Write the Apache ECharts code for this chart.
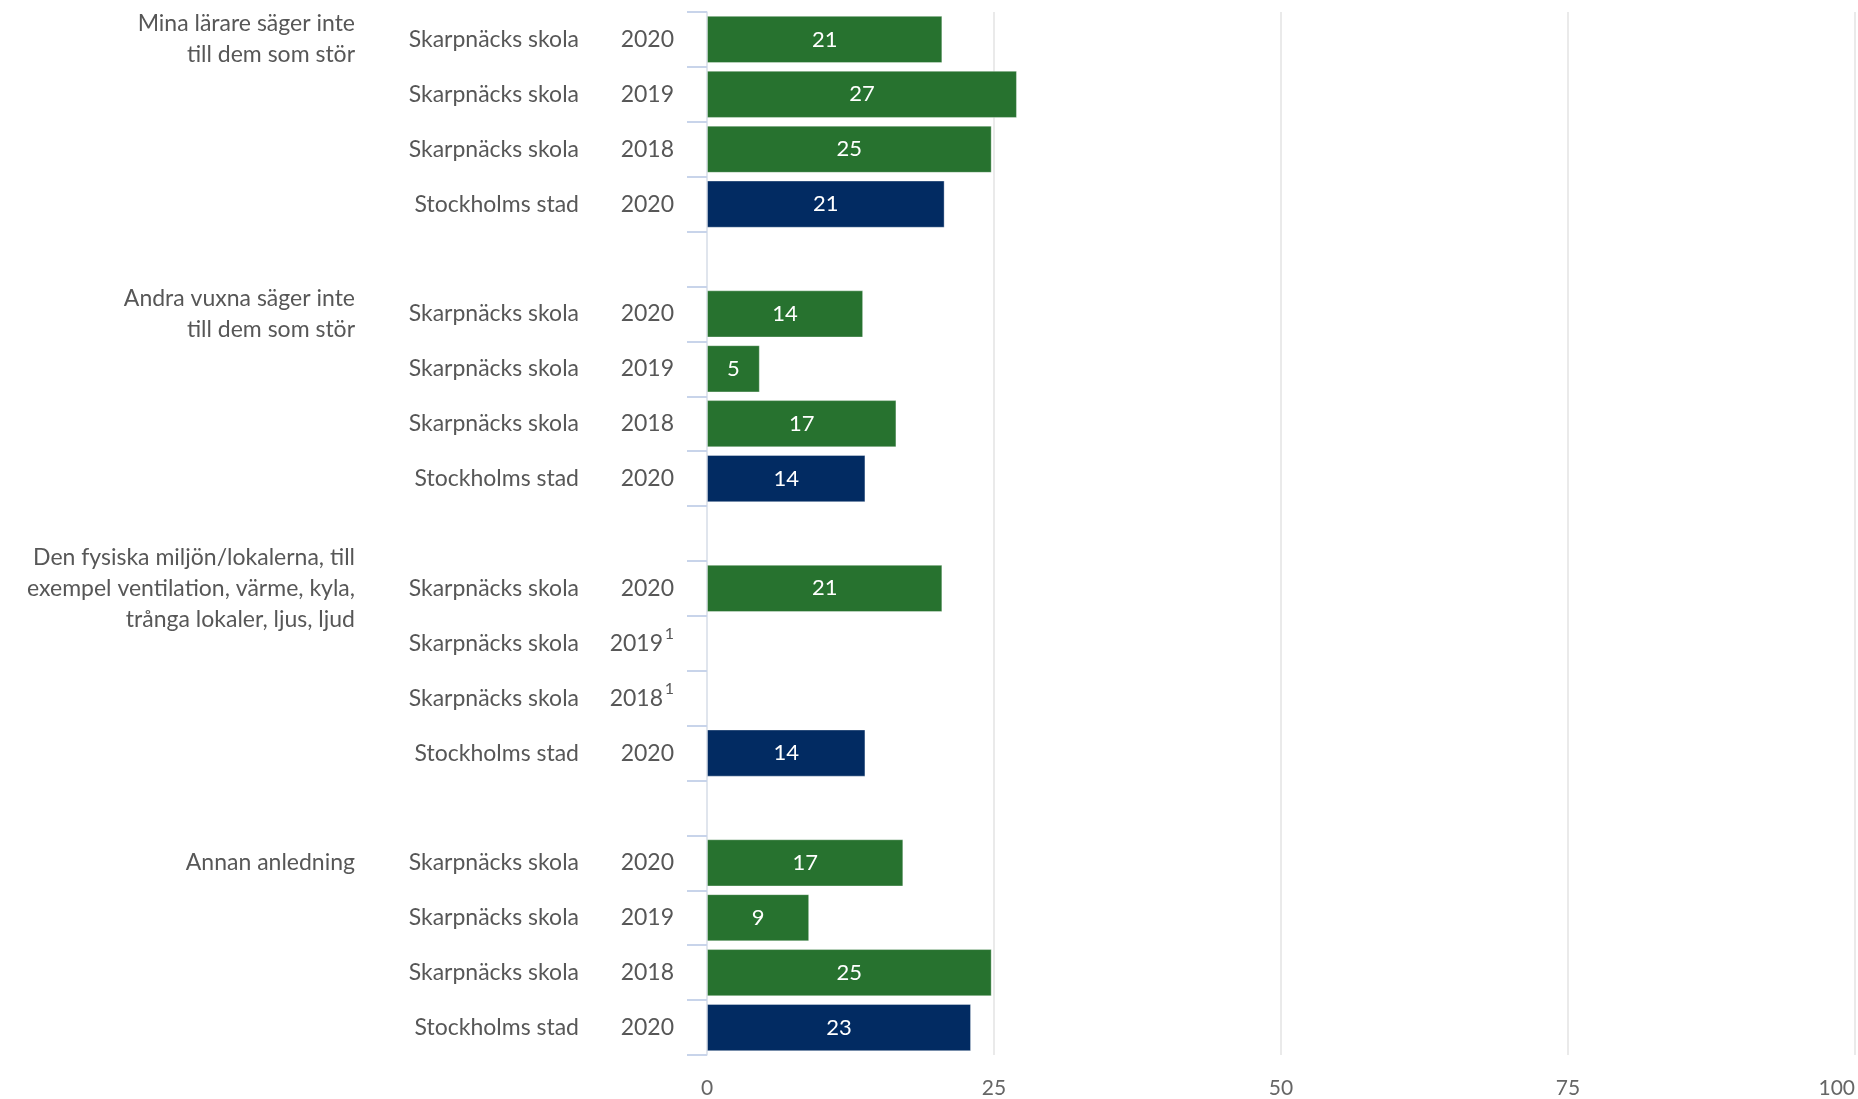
<!DOCTYPE html>
<html>
<head>
<meta charset="utf-8">
<script src="https://cdn.jsdelivr.net/npm/echarts@6/dist/echarts.min.js"></script>
<style>
html,body{margin:0;padding:0;background:#fff;}
#chart{width:1858px;height:1099px;}
</style>
</head>
<body>
<div id="chart"></div>
<script>
// ---- Data ----
const groupNames = [
  'Mina lärare säger inte\ntill dem som stör',
  'Andra vuxna säger inte\ntill dem som stör',
  'Den fysiska miljön/lokalerna, till\nexempel ventilation, värme, kyla,\ntrånga lokaler, ljus, ljud',
  'Annan anledning'
];
const rowUnits = ['Skarpnäcks skola', 'Skarpnäcks skola', 'Skarpnäcks skola', 'Stockholms stad'];
const rowYears = ['2020', '2019', '2018', '2020'];
const valuesMina = [20.5, 27.0, 24.8, 20.7];
const valuesAndra = [13.6, 4.6, 16.5, 13.8];
const valuesFysiska = [20.5, null, null, 13.8];
const valuesAnnan = [17.1, 8.9, 24.8, 23.0];
const footnoteFysiska = [false, true, true, false];
const xTicks = [0, 25, 50, 75, 100];

const groupValues = [valuesMina, valuesAndra, valuesFysiska, valuesAnnan];
const groupFootnotes = [[false,false,false,false],[false,false,false,false],footnoteFysiska,[false,false,false,false]];

const GREEN = '#27722f';
const NAVY = '#022b62';

// Build rows (with blank separator rows between groups)
const cats = [];
const rowInfo = [];
const barData = [];
groupNames.forEach((g, gi) => {
  rowUnits.forEach((u, ri) => {
    const key = 'r' + gi + '_' + ri;
    cats.push(key);
    rowInfo.push({group: ri === 0 ? g : '', unit: u, year: rowYears[ri], sup: groupFootnotes[gi][ri]});
    const v = groupValues[gi][ri];
    barData.push({value: v, itemStyle: {color: u === 'Stockholms stad' ? NAVY : GREEN}});
  });
  if (gi < groupNames.length - 1) {
    const key = 'gap' + gi;
    cats.push(key);
    rowInfo.push({group: '', unit: '', year: '', sup: false});
    barData.push({value: null});
  }
});

const FONT = 'Lato';
const TXT = '#575757';
const chart = echarts.init(document.getElementById('chart'));
chart.setOption({
  animation: false,
  textStyle: {fontFamily: FONT},
  grid: {left: 707, right: 3, top: 12, bottom: 44, containLabel: false},
  xAxis: {
    type: 'value', min: 0, max: 100, interval: 25,
    axisLine: {show: false}, axisTick: {show: false},
    splitLine: {lineStyle: {color: '#e3e3e3', width: 1.5}},
    axisLabel: {color: '#666', fontSize: 21, margin: 23, fontFamily: FONT, alignMaxLabel: 'right',
      formatter: v => xTicks.includes(v) ? String(v) : ''}
  },
  yAxis: [{
    type: 'category', data: cats, inverse: true, position: 'left',
    axisLine: {show: true, lineStyle: {color: '#dde3ee', width: 1.5}},
    axisTick: {show: true, length: 20, lineStyle: {color: '#c8d4ea', width: 2}},
    axisLabel: {
      margin: 33, fontFamily: FONT,
      formatter: (v, i) => {
        const r = rowInfo[i];
        if (!r || !r.unit) return '';
        if (r.sup) return '{n|' + r.unit + '}{y2|' + r.year + '}{s|1}';
        return '{n|' + r.unit + '}{y|' + r.year + '}';
      },
      rich: {
        n: {fontSize: 23, color: TXT, fontFamily: FONT},
        y: {fontSize: 23, color: TXT, width: 95, align: 'right', fontFamily: FONT},
        y2: {fontSize: 23, color: TXT, width: 84, align: 'right', fontFamily: FONT},
        s: {fontSize: 16, color: TXT, width: 11, align: 'right', padding: [0, 0, 18, 0], fontFamily: FONT}
      }
    }
  }, {
    type: 'category', data: cats, inverse: true, position: 'left',
    axisLine: {show: false}, axisTick: {show: false}, splitLine: {show: false},
    axisLabel: {
      margin: 352, fontSize: 23, color: TXT, lineHeight: 31, align: 'right', fontFamily: FONT,
      formatter: (v, i) => rowInfo[i] ? rowInfo[i].group : ''
    }
  }],
  series: [{
    type: 'bar', yAxisIndex: 0, data: barData, barCategoryGap: '14%',
    itemStyle: {borderColor: 'rgba(255,255,255,0.35)', borderWidth: 1},
    label: {show: true, position: 'inside', color: '#fff', fontSize: 22, fontFamily: FONT,
      formatter: p => p.value == null ? '' : String(Math.round(p.value))}
  }]
});
</script>
</body>
</html>
